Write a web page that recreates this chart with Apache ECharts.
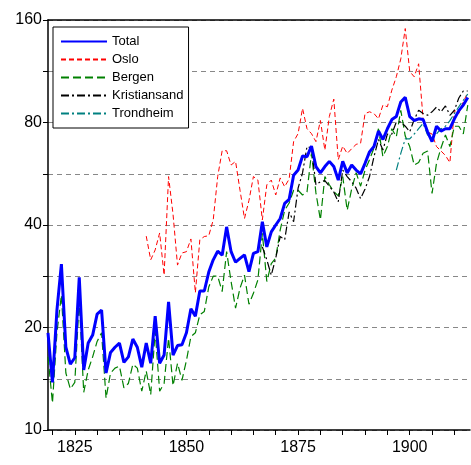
<!DOCTYPE html>
<html><head><meta charset="utf-8">
<script src="https://cdn.jsdelivr.net/npm/echarts@6/dist/echarts.min.js"></script>
<style>html,body{margin:0;padding:0;background:#fff}#c{width:471px;height:465px}</style>
</head><body><div id="c"></div>
<script>
var years = [];
for (var y = 1819; y <= 1913; y++) years.push(y);
var total = [19.3,13.8,22.5,30.7,17.5,15.6,16.3,28.1,15,18,19,21.9,22.5,14.7,16.9,17.5,18,15.8,16.4,18.5,17.5,15.3,18,15.7,21.6,15.7,16.6,23.8,16.6,17.7,17.8,19.3,22.7,21.6,25.6,25.6,29.1,31.6,33.5,32.6,39.5,33.4,31.1,31.9,32.7,29.2,33,33.4,40.9,34.5,38.2,40,41.8,46.3,47.6,56,58,63.8,63.5,68.2,59.4,56.9,59.4,61.5,59.4,54.2,61.5,56.9,60,58,56.5,60.7,65.6,68,75.5,71.3,76.7,81.6,83.3,91.9,94.8,83.3,81.1,82,81.6,75.1,70.3,78,75.5,76.7,76.7,82,86.7,90,94.8];
var oslo = [null,null,null,null,null,null,null,null,null,null,null,null,null,null,null,null,null,null,null,null,null,null,
  37.1,31.6,33.8,37.9,28.5,55.5,43,30.5,33.1,33.4,36.4,25.3,36.2,37,37.2,41.4,55.5,66.1,66.1,60,61.5,50.6,41.8,47.2,55.5,54.2,41.4,52.5,54.2,49,55,51.8,54.6,70.3,74.2,88,76.7,74.2,70.3,81.1,66.4,83.3,93.7,62.2,68.2,64.9,67,69,69.5,85,86,85,82,90,89,99.6,109,123,151,113,109,119,82,75,74,68,66,64,61,87,85,92,98];
var bergen = [16.4,12,19.3,24.9,14.7,13.2,13.8,24.1,12.9,15,16.4,18.2,19.3,12.4,14.7,15.2,15.4,13.3,13.7,15.6,15.2,13,14.9,12.7,19.5,13,13.7,18.6,13.5,15.7,14,16,18.8,19.3,21.8,22.3,26.3,28.3,28.3,25.5,33.4,27.3,22.8,26.1,28.5,23.4,25.2,27.6,37.8,27.3,30.8,32,38.7,44.2,46.4,50.6,50.6,49,50,64.9,49.7,41.4,55.5,52.5,50.1,48.7,55.5,44.2,51,57,52,58,62.2,67.3,76.7,63.5,68,76.7,72.6,86.9,73,68,60,61,65,66,49.5,60.7,67.3,73.5,68,78,78,74,90];
var kristiansand = [null,null,null,null,null,null,null,null,null,null,null,null,null,null,null,null,null,null,null,null,null,null,null,null,null,null,null,null,null,null,null,null,null,null,null,null,null,null,null,null,null,null,null,null,null,null,null,null,
  34.5,31.6,28.5,32,37,36.2,43.7,40.9,51.3,56.9,68,67.3,52.5,53.6,54,52,50,46.8,58,55.5,53.6,51.3,47.8,51,55.5,63.5,71.3,66.4,74,74,80.3,80.3,78,75.1,81.5,86.9,85,84,86,88.8,86,89.5,84,86.9,94.4,99,99];
var trondheim = [];
for (var i = 0; i < years.length; i++) trondheim.push(null);
var trondVals = [58,64.9,71.6,71.6,74,76.7,79.5,73.5,72.6,74,76.7,78,81,85,89,93,97];
for (var j = 0; j < trondVals.length; j++) trondheim[1897 - 1819 + j] = trondVals[j];
var yTickLabels = [10,20,40,80,160];
var xTickLabels = [1825,1850,1875,1900];

function tr(arr){ return years.map(function(yr,i){ var v = arr[i]; return [yr, v == null ? null : Math.log2(v/10)]; }); }
var xTicks = []; for (var t = 1820; t <= 1910; t += 5) xTicks.push(t);

var chart = echarts.init(document.getElementById('c'));
function ser(name, data, color, width, dash){
  return {name:name, type:'line', data:tr(data), symbol:'none', showSymbol:false, animation:false,
    lineStyle:{color:color, width:width, type:dash}, itemStyle:{color:color}};
}
chart.setOption({
  animation:false,
  grid:{left:48, top:20, right:1, bottom:35},
  legend:{left:53, top:27, orient:'vertical', itemWidth:46, itemHeight:14, itemGap:5,
    itemStyle:{opacity:0},
    borderColor:'#000', borderWidth:1, padding:[8,5,8,7], backgroundColor:'#fff',
    textStyle:{fontFamily:'Liberation Sans', fontSize:13, color:'#000', padding:[0,0,0,0]},
    data:['Total','Oslo','Bergen','Kristiansand','Trondheim']},
  xAxis:[{type:'value', min:1819, max:1913.5,
    axisLine:{lineStyle:{color:'#000', width:1.5}},
    axisTick:{show:true, customValues:xTicks, length:5, lineStyle:{color:'#000'}},
    axisLabel:{customValues:xTickLabels, fontFamily:'Liberation Sans', fontSize:16, color:'#000', margin:10,
      formatter:function(v){ return String(v); }},
    splitLine:{show:false}},
   {type:'value', position:'top', min:1819, max:1913.5,
    axisLine:{show:true, lineStyle:{color:'#000', width:1.5}}, axisTick:{show:false}, axisLabel:{show:false}, splitLine:{show:false}}],
  yAxis:{type:'value', min:0, max:4, interval:0.5,
    axisLine:{show:true, lineStyle:{color:'#000', width:1.5}},
    axisTick:{show:true, length:5, lineStyle:{color:'#000'}},
    axisLabel:{fontFamily:'Liberation Sans', fontSize:16, color:'#000', margin:6,
      formatter:function(v){ return Math.abs(v - Math.round(v)) < 1e-6 ? String(yTickLabels[Math.round(v)]) : ''; }},
    splitLine:{show:true, lineStyle:{color:'#888', type:[5,4], width:1}}},
  series:[
    ser('Oslo', oslo, '#ff0000', 1, [5,3]),
    ser('Bergen', bergen, '#008000', 1.2, [8,4]),
    ser('Kristiansand', kristiansand, '#000000', 1.2, [8,3,2,3]),
    ser('Trondheim', trondheim, '#008080', 1.2, [8,3,2,3]),
    ser('Total', total, '#0000ff', 3, 'solid')
  ]
});
</script></body></html>
